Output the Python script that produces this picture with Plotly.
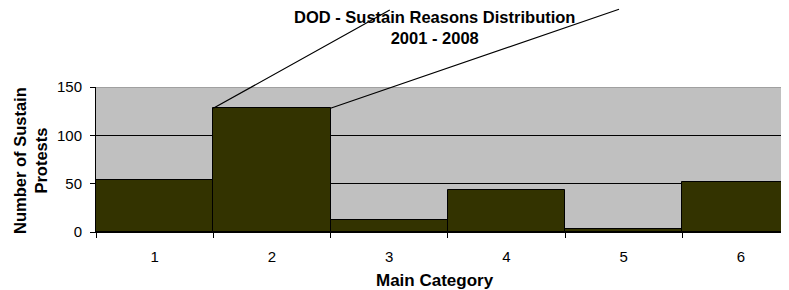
import plotly.graph_objects as go

categories = ["1", "2", "3", "4", "5", "6"]
values = [54, 128, 12, 43, 3, 52]
y_ticks = [0, 50, 100, 150]

fig = go.Figure()
fig.add_trace(go.Bar(
    x=categories, y=values,
    marker=dict(color="#333300", line=dict(color="#000000", width=1)),
))

FONT = "Liberation Sans, Arial, sans-serif"
OFF = 8  # page body margin
W, H = 789 - OFF, 290 - OFF
L, T, B = 96 - OFF, 87 - OFF, 290 - 232
PH = H - T - B
PW = W - L

fig.update_layout(
    width=W, height=H,
    margin=dict(l=L, r=0, t=T, b=B, autoexpand=False),
    paper_bgcolor="white", plot_bgcolor="#C0C0C0",
    bargap=0, showlegend=False,
    font=dict(family=FONT, size=15, color="#000000"),
)
fig.update_xaxes(
    type="category", range=[-0.5, 5.41], automargin=False,
    tickson="boundaries", ticks="outside", ticklen=5, tickcolor="#000000",
    showgrid=False, showline=True, linecolor="#000000", linewidth=1,
    tickfont=dict(size=15), ticklabelstandoff=11,
)
fig.update_yaxes(
    range=[0, 150], tickvals=y_ticks, automargin=False,
    ticks="outside", ticklen=5, tickcolor="#000000",
    showgrid=True, gridcolor="#000000", gridwidth=1,
    showline=True, linecolor="#000000", linewidth=1,
    zeroline=False, ticklabelstandoff=5, tickfont=dict(size=15),
)
# top border of plot area (gray)
fig.add_shape(type="line", xref="paper", yref="y", x0=0, x1=1, y0=150, y1=150,
              line=dict(color="#808080", width=1), layer="above")

# chart title
fig.add_annotation(text="<b>DOD - Sustain Reasons Distribution<br>2001 - 2008</b>",
                   xref="paper", yref="paper",
                   x=(434 - 96) / PW, y=1 + (87 - 27) / PH, xanchor="center", yanchor="middle",
                   showarrow=False, font=dict(family=FONT, size=16.5))

# x-axis title
fig.add_annotation(text="<b>Main Category</b>", xref="paper", yref="paper",
                   x=(435 - 96) / PW, y=-(280 - 232) / PH, xanchor="center", yanchor="middle",
                   showarrow=False, font=dict(family=FONT, size=17))

# y-axis title
fig.add_annotation(text="<b>Number of Sustain<br>Protests</b>", xref="paper", yref="paper",
                   x=(31 - 96) / PW, y=0.49, xanchor="center", yanchor="middle", textangle=-90,
                   showarrow=False, font=dict(family=FONT, size=16.5))

# callout lines from bar 2's top corners
fig.add_annotation(x=0.5, y=values[1], xref="x", yref="y", text=" ",
                   showarrow=True, arrowhead=0, arrowwidth=1.2, arrowcolor="#000000",
                   ax=180, ay=-113, standoff=0, startstandoff=0)
fig.add_annotation(x=1.5, y=values[1], xref="x", yref="y", text=" ",
                   showarrow=True, arrowhead=0, arrowwidth=1.2, arrowcolor="#000000",
                   ax=292, ay=-111, standoff=0, startstandoff=0)

fig.write_html("out.html")
